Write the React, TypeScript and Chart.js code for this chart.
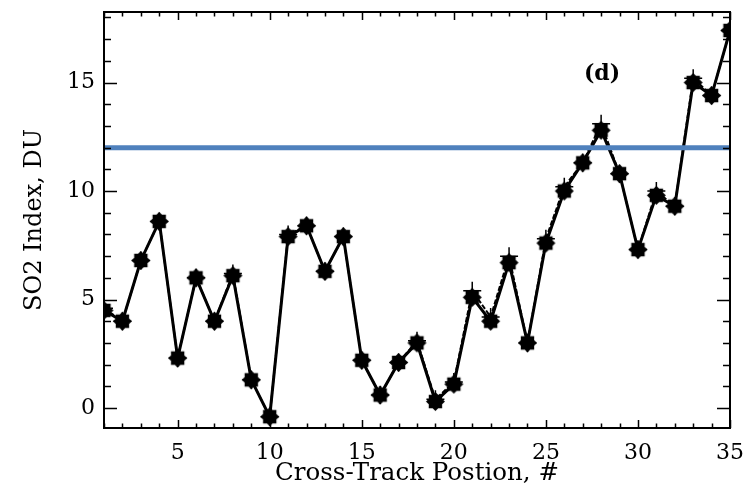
import React, { useEffect, useRef } from "react";
import { Chart, registerables } from "chart.js";

Chart.register(...registerables);

const positions = Array.from({ length: 35 }, (_, i) => i + 1);
const so2IndexA = [
  4.5, 4.0, 6.8, 8.6, 2.3, 6.0, 4.0, 6.1, 1.3, -0.4,
  7.9, 8.4, 6.3, 7.9, 2.2, 0.6, 2.1, 3.0, 0.3, 1.1,
  5.1, 4.0, 6.7, 3.0, 7.6, 10.0, 11.3, 12.8, 10.8, 7.3,
  9.8, 9.3, 15.0, 14.4, 17.4,
];
const so2IndexB = [
  4.6, 4.0, 6.8, 8.6, 2.3, 6.0, 4.0, 6.2, 1.3, -0.4,
  8.0, 8.4, 6.3, 7.9, 2.2, 0.6, 2.1, 3.1, 0.4, 1.2,
  5.4, 4.2, 7.0, 3.0, 7.8, 10.2, 11.3, 13.1, 10.8, 7.3,
  10.0, 9.3, 15.2, 14.4, 17.4,
];
const thresholdValue = 12;
const xMajorTicks = [5, 10, 15, 20, 25, 30, 35];
const yMajorTicks = [0, 5, 10, 15];
const panelLabel = "(d)";
const panelLabelAt = { x: 28.05, y: 15.4 };

function makeStar(r1: number, r2: number, n: number) {
  const s = Math.ceil(r1 * 2) + 2;
  const c = document.createElement("canvas");
  c.width = s;
  c.height = s;
  const ctx = c.getContext("2d")!;
  ctx.fillStyle = "#000";
  ctx.beginPath();
  for (let i = 0; i < 2 * n; i++) {
    const a = (i * Math.PI) / n - Math.PI / 2;
    const r = i % 2 ? r2 : r1;
    const x = s / 2 + r * Math.cos(a);
    const y = s / 2 + r * Math.sin(a);
    if (i === 0) ctx.moveTo(x, y);
    else ctx.lineTo(x, y);
  }
  ctx.closePath();
  ctx.fill();
  return c;
}

const framePlugin = {
  id: "frame",
  afterDatasetsDraw(chart: any) {
    const { ctx, chartArea, scales } = chart;
    const { left, right, top, bottom } = chartArea;
    const xs = scales.x;
    const ys = scales.y;
    ctx.save();
    ctx.strokeStyle = "#000";
    ctx.lineWidth = 2;
    ctx.strokeRect(left, top, right - left, bottom - top);
    ctx.lineWidth = 1.5;
    ctx.beginPath();
    for (let v = 1; v <= 35; v++) {
      const px = Math.round(xs.getPixelForValue(v)) + 0.5;
      const len = xMajorTicks.includes(v) ? 8 : 4.5;
      ctx.moveTo(px, bottom);
      ctx.lineTo(px, bottom - len);
      ctx.moveTo(px, top);
      ctx.lineTo(px, top + len);
    }
    for (let v = 0; v <= 18; v++) {
      const py = Math.round(ys.getPixelForValue(v)) + 0.5;
      if (py < top || py > bottom) continue;
      const len = yMajorTicks.includes(v) ? 13 : 7;
      ctx.moveTo(left, py);
      ctx.lineTo(left + len, py);
      ctx.moveTo(right, py);
      ctx.lineTo(right - len, py);
    }
    ctx.stroke();
    ctx.fillStyle = "#000";
    ctx.font = "600 22px 'DejaVu Serif'";
    ctx.textAlign = "center";
    ctx.textBaseline = "middle";
    ctx.fillText(
      panelLabel,
      xs.getPixelForValue(panelLabelAt.x),
      ys.getPixelForValue(panelLabelAt.y)
    );
    ctx.restore();
  },
};

function zeroPad(s: any) {
  s.paddingTop = 0;
  s.paddingBottom = 0;
  s.paddingLeft = 0;
  s.paddingRight = 0;
}

export default function App() {
  const ref = useRef<HTMLCanvasElement>(null);
  useEffect(() => {
    document.body.style.margin = "0";
    const star = makeStar(9.5, 7.2, 8);
    const chart = new Chart(ref.current!, {
      type: "line",
      data: {
        datasets: [
          {
            label: "threshold",
            data: [
              { x: 1, y: thresholdValue },
              { x: 35, y: thresholdValue },
            ],
            borderColor: "#4F81BD",
            borderWidth: 5,
            pointRadius: 0,
          },
          {
            label: "B",
            data: positions.map((x, i) => ({ x, y: so2IndexB[i] })),
            borderColor: "#000",
            borderWidth: 2,
            borderDash: [5, 2],
            pointStyle: "cross",
            pointRadius: 9,
            pointBorderWidth: 1.5,
            pointBorderColor: "#000",
          },
          {
            label: "A",
            data: positions.map((x, i) => ({ x, y: so2IndexA[i] })),
            borderColor: "#000",
            borderWidth: 3,
            pointStyle: star as any,
            pointRadius: 9,
          },
        ],
      },
      options: {
        responsive: false,
        animation: false,
        layout: { padding: { left: 0, right: 19, top: 12, bottom: 0 } },
        plugins: { legend: { display: false }, tooltip: { enabled: false } },
        scales: {
          x: {
            type: "linear",
            min: 1,
            max: 35,
            grid: { display: false, drawTicks: false },
            border: { display: false },
            afterBuildTicks: (s: any) => {
              s.ticks = xMajorTicks.map((v) => ({ value: v }));
            },
            afterFit: (s: any) => {
              s.height = 66;
              zeroPad(s);
            },
            ticks: {
              color: "#000",
              padding: 12,
              maxRotation: 0,
              font: { family: "'DejaVu Serif'", size: 22 },
            },
            title: {
              display: true,
              text: "Cross-Track Postion, #",
              color: "#000",
              font: { family: "'DejaVu Serif'", size: 24.5 },
              padding: { top: 0, bottom: 6 },
            },
          },
          y: {
            type: "linear",
            min: -0.92,
            max: 18.25,
            grid: { display: false, drawTicks: false },
            border: { display: false },
            afterBuildTicks: (s: any) => {
              s.ticks = yMajorTicks.map((v) => ({ value: v }));
            },
            afterFit: (s: any) => {
              s.width = 104;
              zeroPad(s);
            },
            ticks: {
              color: "#000",
              padding: 9,
              font: { family: "'DejaVu Serif'", size: 22 },
            },
            title: {
              display: true,
              text: "SO2 Index, DU",
              color: "#000",
              font: { family: "'DejaVu Serif'", size: 24 },
              padding: { top: 20, bottom: 0 },
            },
          },
        },
      },
      plugins: [framePlugin],
    });
    return () => chart.destroy();
  }, []);
  return <canvas ref={ref} width={749} height={494} />;
}
